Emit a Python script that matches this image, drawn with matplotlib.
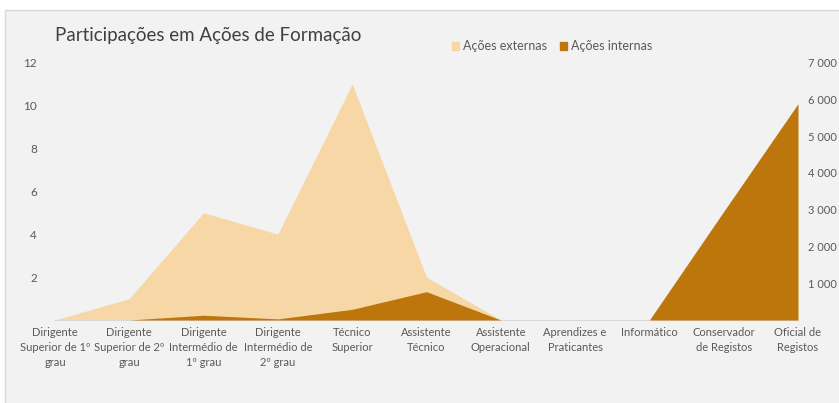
import matplotlib.pyplot as plt
from matplotlib.patches import Rectangle, Patch

plt.rcParams['font.family'] = ['Lato', 'DejaVu Sans']

# dados
categorias = ['Dirigente\nSuperior de 1º\ngrau', 'Dirigente\nSuperior de 2º\ngrau',
              'Dirigente\nIntermédio de\n1º grau', 'Dirigente\nIntermédio de\n2º grau',
              'Técnico\nSuperior', 'Assistente\nTécnico', 'Assistente\nOperacional',
              'Aprendizes e\nPraticantes', 'Informático', 'Conservador\nde Registos',
              'Oficial de\nRegistos']
acoes_externas = [0, 1, 5, 4, 11, 2, 0, 0, 0, 0, 0]
acoes_internas = [0, 0, 130, 30, 290, 770, 0, 0, 0, 2950, 5880]
ticks_esq = [2, 4, 6, 8, 10, 12]
ticks_dir = [1000, 2000, 3000, 4000, 5000, 6000, 7000]

cor_ext = '#F8D7A6'
cor_int = '#BD760B'
cor_txt = '#595959'

W, H = 839, 403
fig = plt.figure(figsize=(W / 100, H / 100), dpi=100)
fig.patch.set_facecolor('white')
# fundo do gráfico
fundo = Rectangle((5 / W, -0.1), 1.0, 1 - 10 / H + 0.1, transform=fig.transFigure,
                  facecolor='#F2F2F2', edgecolor='#D9D9D9', linewidth=1)
fundo.set_zorder(-10)
fig.add_artist(fundo)

x0, x1 = 55, 798
y0, y1 = 320, 62.5
ax = fig.add_axes([x0 / W, (H - y0) / H, (x1 - x0) / W, (y0 - y1) / H])
ax.set_facecolor('none')
x = list(range(len(categorias)))
ax.fill_between(x, acoes_externas, 0, color=cor_ext, linewidth=0)
ax.set_xlim(0, len(categorias) - 1)
ax.set_ylim(0, 12)
ax.set_yticks(ticks_esq)
ax.set_xticks(x)
ax.set_xticklabels(categorias, fontsize=8, color=cor_txt, linespacing=1.45, va='top')
ax.tick_params(axis='x', length=0, pad=5)
ax.tick_params(axis='y', length=0, pad=13, labelsize=8.5, labelcolor=cor_txt)
for s in ['top', 'right', 'left']:
    ax.spines[s].set_visible(False)
ax.spines['bottom'].set_color('#D9D9D9')

ax2 = ax.twinx()
ax2.fill_between(x, acoes_internas, 0, color=cor_int, linewidth=0)
ax2.set_ylim(0, 7000)
ax2.set_yticks(ticks_dir)
ax2.set_yticklabels([f'{v:,}'.replace(',', ' ') for v in ticks_dir])
ax2.tick_params(axis='y', length=0, pad=7, labelsize=8, labelcolor=cor_txt)
for s in ['top', 'right', 'left', 'bottom']:
    ax2.spines[s].set_visible(False)

fig.text(55 / W, 1 - 35 / H, 'Participações em Ações de Formação', fontsize=13.5,
         color='#404040', va='center', ha='left')

handles = [Patch(color=cor_ext, label='Ações externas'), Patch(color=cor_int, label='Ações internas')]
fig.legend(handles=handles, loc='center', bbox_to_anchor=(552 / W, 1 - 46 / H), ncol=2,
           frameon=False, fontsize=9, labelcolor=cor_txt, handlelength=0.6, handleheight=0.6,
           handletextpad=0.3, columnspacing=1.0)

fig.savefig('out.png', dpi=100)
